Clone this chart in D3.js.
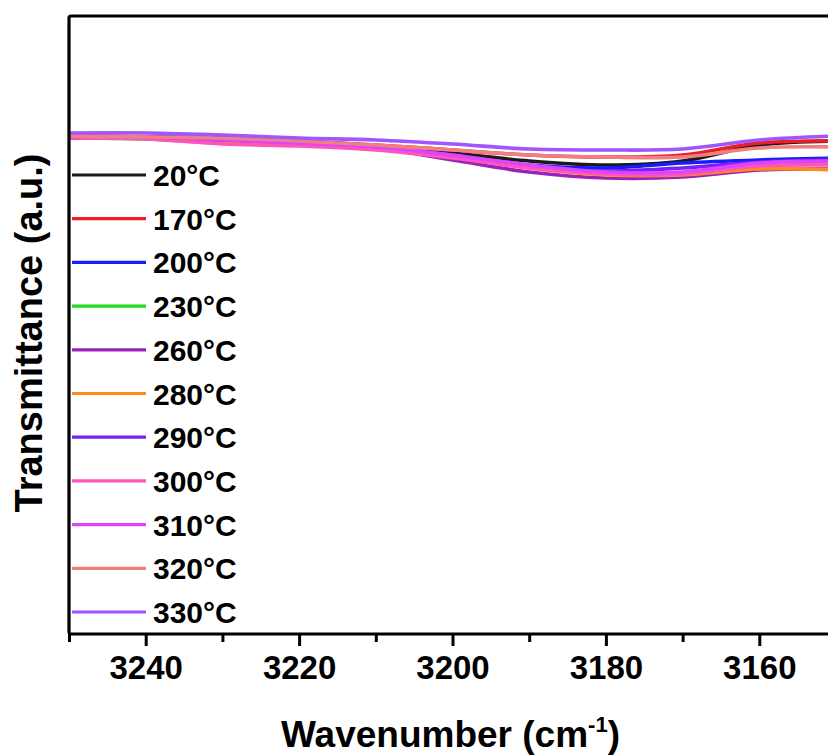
<!DOCTYPE html>
<html>
<head>
<meta charset="utf-8">
<script src="https://cdn.jsdelivr.net/npm/d3@7"></script>
<style>
body{margin:0;background:#fff}
text{font-family:"Liberation Sans",Arial,sans-serif;font-weight:bold;fill:#000}
</style>
</head>
<body>
<script>
// wavenumber samples (cm-1), reversed axis
var wavenumbers=[3250,3240,3230,3220,3210,3200,3190,3180,3170,3160,3150]
var temps=["20°C","170°C","200°C","230°C","260°C","280°C","290°C","300°C","310°C","320°C","330°C"]
var colors=["#1a1a1a","#ee1c24","#1a1aff","#22dd22","#9922bb","#ff8c1a","#7722ee","#ff55bb","#dd44ff","#f08080","#a055ff"]

// transmittance (a.u.) for each temperature
var t20 =[49.6,49.6,49.5,49.2,48.8,48.1,47.3,46.9,47.3,48.9,49.3]
var t170=[49.8,49.7,49.6,49.3,48.9,48.4,47.9,47.7,47.9,49.1,49.3]
var t200=[49.6,49.7,49.6,49.3,48.8,47.9,46.9,46.6,47.1,47.4,47.6]
var t230=[49.6,49.5,49.1,48.9,48.5,47.7,46.7,46.1,46.1,46.9,47.1]
var t260=[49.8,49.7,49.4,49.1,48.6,47.4,46.2,45.6,45.7,46.4,46.5]
var t280=[49.7,49.6,49.3,49.0,48.6,47.7,46.6,45.9,45.9,46.5,46.4]
var t290=[49.6,49.6,49.4,49.1,48.6,47.7,46.7,46.3,46.6,47.2,47.4]
var t300=[49.6,49.5,49.0,48.8,48.4,47.6,46.6,46.0,46.0,46.8,46.9]
var t310=[49.8,49.7,49.4,49.1,48.7,47.9,46.9,46.2,46.2,47.1,47.3]
var t320=[49.8,49.7,49.6,49.3,48.9,48.4,47.9,47.7,47.7,48.6,48.7]
var t330=[50.1,50.1,49.9,49.6,49.4,49.0,48.5,48.4,48.5,49.4,49.8]
var series=[t20,t170,t200,t230,t260,t280,t290,t300,t310,t320,t330]

var majorTicks=[3240,3220,3200,3180,3160]
var minorTicks=[3250,3230,3210,3190,3170,3150]

var W=828,H=756
var plot={left:69,top:16,right:836,bottom:634}

const svg=d3.select("body").append("svg").attr("width",W).attr("height",H)

var x=d3.scaleLinear().domain([3250,3150]).range([plot.left,plot.right])
var y=d3.scaleLinear().domain([0,61.8]).range([plot.bottom,plot.top])

svg.append("defs").append("clipPath").attr("id","clip")
	.append("rect").attr("x",plot.left).attr("y",plot.top)
	.attr("width",plot.right-plot.left).attr("height",plot.bottom-plot.top)

var line=d3.line()
	.x((d,i)=>x(wavenumbers[i]))
	.y(d=>y(d))
	.curve(d3.curveCatmullRom)

svg.append("g").attr("clip-path","url(#clip)")
	.selectAll("path").data(series).join("path")
	.attr("d",d=>line(d))
	.attr("fill","none")
	.attr("stroke",(d,i)=>colors[i])
	.attr("stroke-width",3.6)

// frame (right side is beyond the picture)
svg.append("rect")
	.attr("x",plot.left).attr("y",plot.top)
	.attr("width",plot.right-plot.left).attr("height",plot.bottom-plot.top)
	.attr("fill","none").attr("stroke","#000").attr("stroke-width",3.2)
	.attr("rx",2)

// x axis
var xAxis=svg.append("g").attr("transform","translate(0,"+plot.bottom+")")
	.call(d3.axisBottom(x).tickValues(majorTicks).tickSize(12).tickPadding(10).tickFormat(d3.format("d")))
xAxis.select(".domain").remove()
xAxis.selectAll(".tick line").attr("stroke","#000").attr("stroke-width",3)
xAxis.selectAll(".tick text").style("font-size","33px").style("font-family","'Liberation Sans',Arial,sans-serif").style("font-weight","bold").attr("fill","#000")

var xMinor=svg.append("g").attr("transform","translate(0,"+plot.bottom+")")
	.call(d3.axisBottom(x).tickValues(minorTicks).tickSize(8).tickFormat(""))
xMinor.select(".domain").remove()
xMinor.selectAll(".tick line").attr("stroke","#000").attr("stroke-width",3)

// axis titles
var xt=svg.append("text").attr("x",(plot.left+plot.right)/2-2).attr("y",747)
	.attr("text-anchor","middle").style("font-size","37px")
xt.append("tspan").text("Wavenumber (cm")
xt.append("tspan").text("-1").style("font-size","22px").attr("dy",-15)
xt.append("tspan").text(")").attr("dy",15)

svg.append("text").attr("transform","translate(42,333) rotate(-90)")
	.attr("text-anchor","middle").style("font-size","38px")
	.text("Transmittance (a.u.)")

// legend
var legend=svg.append("g").selectAll("g").data(temps).join("g")
	.attr("transform",(d,i)=>"translate(0,"+(175+i*43.7)+")")
legend.append("line").attr("x1",72).attr("x2",146)
	.attr("stroke",(d,i)=>colors[i]).attr("stroke-width",3.2)
legend.append("text").attr("x",153).attr("y",11)
	.style("font-size","30px").text(d=>d)
</script>
</body>
</html>
